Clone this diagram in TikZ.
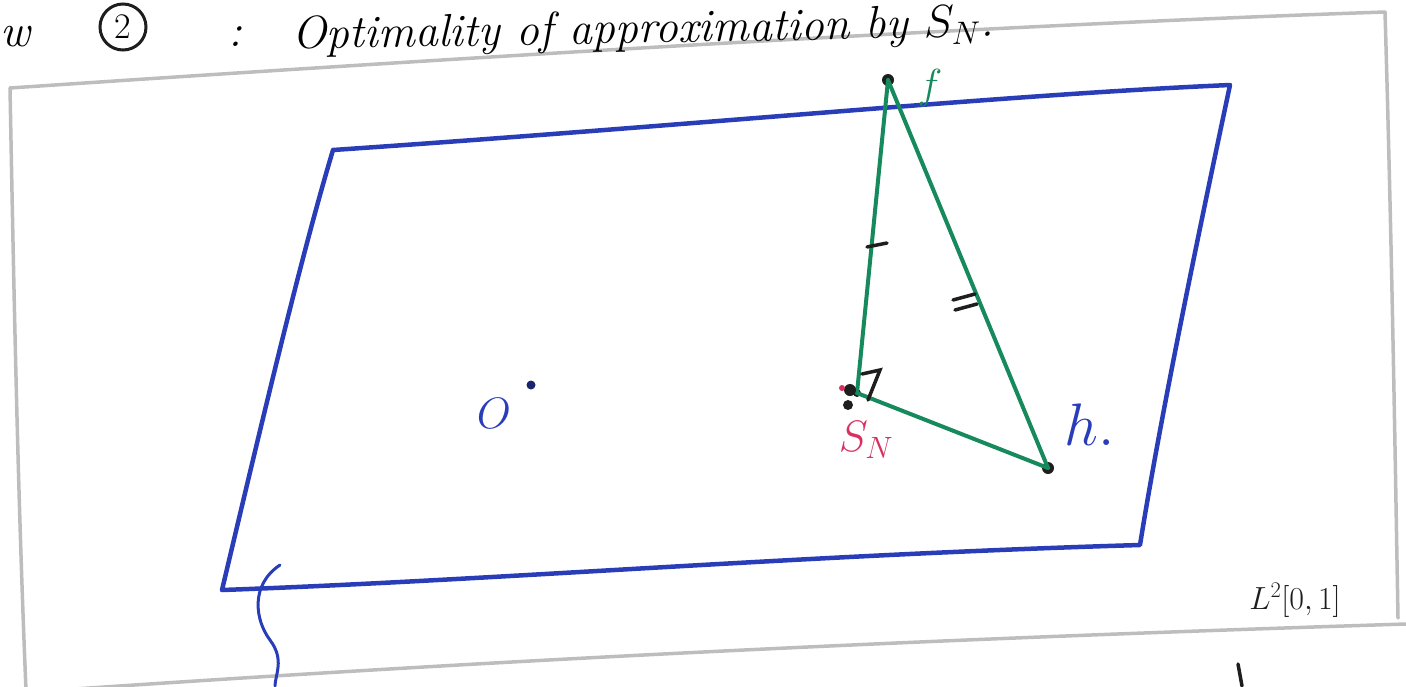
\RequirePackage{fix-cm}
\documentclass[tikz,border=0pt]{standalone}
\usetikzlibrary{calc}
\definecolor{pen}{HTML}{2A3DB8}
\definecolor{gr}{HTML}{168A5C}
\definecolor{pk}{HTML}{D8305F}
\definecolor{paper}{HTML}{BDBDBD}
\definecolor{ink}{HTML}{1E1E1E}
\tikzset{
  bluepen/.style={draw=pen, line width=4.5pt, line cap=round, line join=round},
  greenpen/.style={draw=gr, line width=4pt, line cap=round, line join=round},
  graypen/.style={draw=paper, line width=3.5pt, line cap=round},
  inkpen/.style={draw=ink, line width=3.5pt, line cap=round},
  pt/.style={circle, fill=ink, inner sep=0pt, minimum size=12pt},
  hand/.style={font=\fontsize{46}{46}\selectfont\itshape, inner sep=0pt}
}
\begin{document}
\begin{tikzpicture}[x=1pt,y=-1pt]
\useasboundingbox (0,0) rectangle (1406,686);
\clip (0,0) rectangle (1406,686);
% paper frame
\draw[graypen] (10,88) .. controls (500,55) and (1000,25) .. (1385,12);
\draw[graypen] (1385,12) .. controls (1392,250) and (1395,450) .. (1398,618);
\draw[graypen] (1406,624) .. controls (900,640) and (500,660) .. (60,690);
\draw[graypen] (10,88) .. controls (14,300) and (18,500) .. (26,690);
% header
\node[hand, anchor=base west] (hw) at (0,46) {w};
\node[draw=ink, circle, line width=3pt, minimum size=46pt, inner sep=0pt, font=\fontsize{36}{36}\selectfont] (h2) at (123,27) {2};
\node[hand, anchor=base west] (hc) at (228,46) {:};
\node[hand, anchor=base west, rotate=1] (ht) at (292,49) {Optimality of approximation by $S_N$.};
% plane
\coordinate (A) at (333,150);
\coordinate (B) at (1230,85);
\coordinate (C) at (1140,545);
\coordinate (D) at (222,590);
\draw[bluepen] (A) .. controls (700,125) and (1000,95) .. (B)
  .. controls (1195,250) and (1160,420) .. (C)
  .. controls (800,555) and (500,580) .. (D)
  .. controls (260,430) and (300,260) .. (A);
% brace-like squiggle
\coordinate (s0) at (280,565);
\coordinate (s1) at (275,686);
\draw[draw=pen, line width=3pt, line cap=round] (s0) .. controls (250,585) and (255,620) .. (270,640) .. controls (285,660) and (275,675) .. (s1);
% origin
\node[pt, fill=pen!60!black, minimum size=9pt] (o) at (531,385) {};
\node[font=\fontsize{44}{44}\selectfont, text=pen, inner sep=0pt] (olab) at (494,413) {$O$};
% triangle
\node[pt] (f) at (888,80) {};
\node[pt, minimum size=8pt] (s) at (857,393) {};
\node[pt] (h) at (1048,468) {};
\draw[greenpen] (f.center) -- (s.center);
\draw[greenpen] (f.center) -- (h.center);
\draw[greenpen] (s.center) -- (h.center);
% right angle
\coordinate (r1) at (862,374);
\coordinate (r2) at (880,370);
\coordinate (r3) at (868,400);
\draw[inkpen] (r1) -- (r2) -- (r3);
\fill[ink] (850,390) circle (6pt);
\fill[ink] (848,405) circle (5pt);
\fill[pk] (842,388) circle (3pt);
% ticks
\coordinate (t1) at (877,245);
\draw[inkpen] ($(t1)+(-10,2)$) -- ($(t1)+(10,-2)$);
\coordinate (t2) at (965,300);
\draw[inkpen] ($(t2)+(-12,0)$) -- ($(t2)+(10,-6)$);
\draw[inkpen] ($(t2)+(-10,10)$) -- ($(t2)+(12,4)$);
% labels
\node[font=\fontsize{42}{42}\selectfont, text=gr, inner sep=0pt] (flab) at (930,88) {$f$};
\node[font=\fontsize{44}{44}\selectfont, text=pk, inner sep=0pt] (slab) at (866,440) {$S_N$};
\node[font=\fontsize{60}{60}\selectfont, text=pen, inner sep=0pt] (hlab) at (1090,425) {$h.$};
\node[font=\fontsize{32}{32}\selectfont, text=ink, inner sep=0pt] (L2) at (1295,600) {$L^2[0,1]$};
% stray stroke at bottom
\coordinate (m0) at (1238,664);
\coordinate (m1) at (1242,686);
\draw[inkpen] (m0) -- (m1);
\end{tikzpicture}
\end{document}
